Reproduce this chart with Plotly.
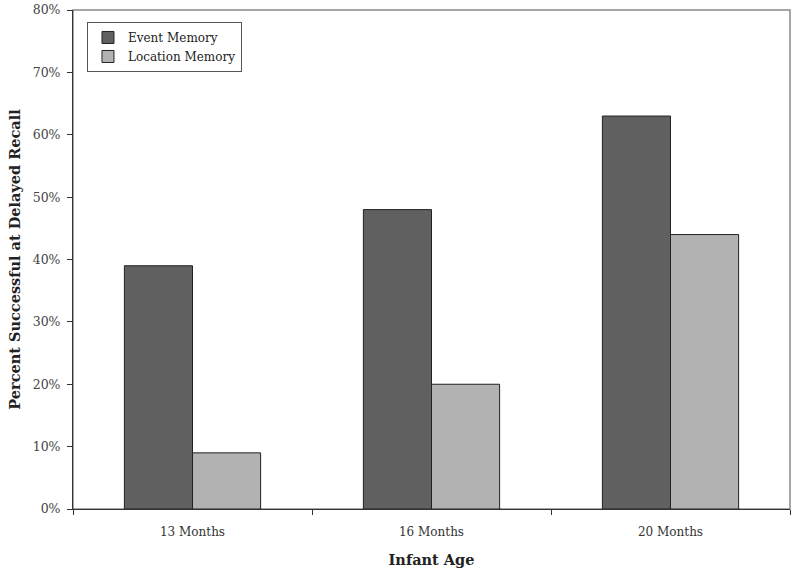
import plotly.graph_objects as go

categories = ["13 Months", "16 Months", "20 Months"]
event_memory = [0.39, 0.48, 0.63]
location_memory = [0.09, 0.20, 0.44]
y_ticks = [0, 0.1, 0.2, 0.3, 0.4, 0.5, 0.6, 0.7, 0.8]
y_tick_labels = ["0%", "10%", "20%", "30%", "40%", "50%", "60%", "70%", "80%"]

font_family = "DejaVu Serif, Liberation Serif, serif"

fig = go.Figure()
fig.add_trace(go.Bar(name="Event Memory", x=categories, y=event_memory,
                     marker=dict(color="#606060", line=dict(color="#222222", width=1))))
fig.add_trace(go.Bar(name="Location Memory", x=categories, y=location_memory,
                     marker=dict(color="#b2b2b2", line=dict(color="#222222", width=1))))

fig.add_shape(type="rect", xref="paper", yref="paper", x0=0, y0=0, x1=1, y1=1,
              line=dict(color="#8a8a8a", width=1.5), layer="below")

fig.update_layout(
    width=800, height=573,
    margin=dict(l=73, r=10, t=10, b=64, autoexpand=False),
    paper_bgcolor="white", plot_bgcolor="white",
    barmode="group", bargap=0.43, bargroupgap=0,
    font=dict(family=font_family, color="#333333", size=12),
    showlegend=True,
    legend=dict(x=0.0195, y=0.976, xanchor="left", yanchor="top",
                bgcolor="white", bordercolor="#555555", borderwidth=1,
                font=dict(size=12, color="#222222"), tracegroupgap=0,
                itemwidth=30),
    xaxis=dict(type="category", tickson="boundaries", ticks="outside", ticklen=5,
               tickcolor="#333333", showline=True, linecolor="#333333", linewidth=1,
               tickfont=dict(size=12, color="#333333"), ticklabelstandoff=12,
               automargin=False,
               title=dict(text="<b>Infant Age</b>", font=dict(size=14.5, color="#222222"), standoff=16)),
    yaxis=dict(range=[0, 0.8], tickvals=y_ticks, ticktext=y_tick_labels,
               ticks="outside", ticklen=5, tickcolor="#333333", ticklabelstandoff=4,
               showline=True, linecolor="#333333", linewidth=1, showgrid=False,
               zeroline=False, tickfont=dict(size=12.5, color="#444444"),
               automargin=False,
               title=dict(text="<b>Percent Successful at Delayed Recall</b>",
                          font=dict(size=14.5, color="#222222"), standoff=8)),
)

fig.write_html("out.html", config={"displayModeBar": False},
               post_script="document.body.style.margin='0';")
